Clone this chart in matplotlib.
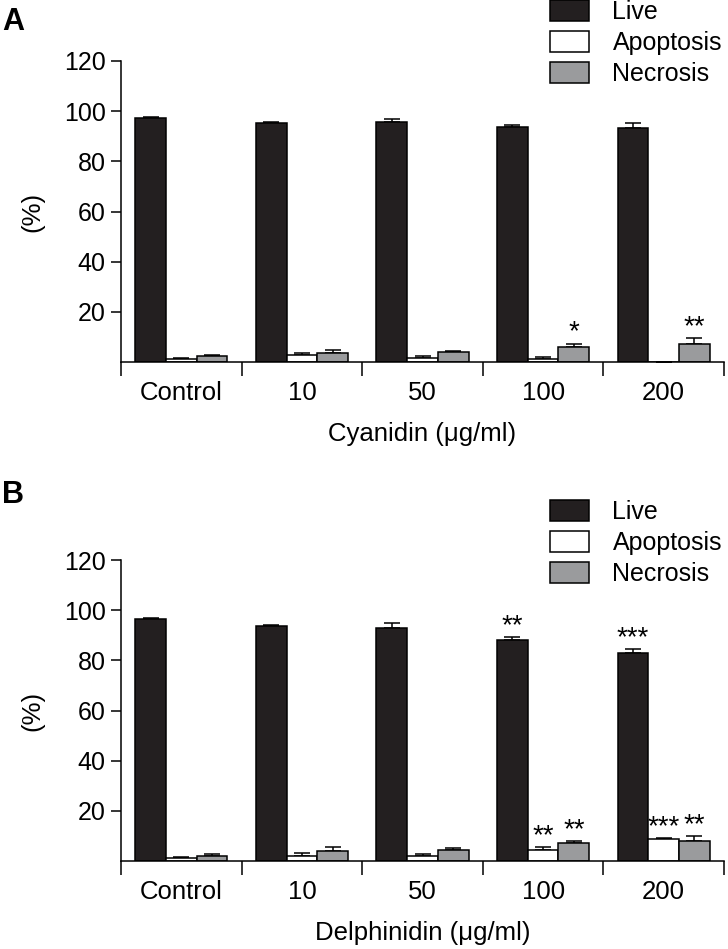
import numpy as np
import matplotlib
matplotlib.use("Agg")
import matplotlib.pyplot as plt

plt.rcParams['font.family'] = ['Liberation Sans', 'DejaVu Sans']

groups = ['Control', '10', '50', '100', '200']
series = ['Live', 'Apoptosis', 'Necrosis']

# panel A - cyanidin
cy_live = [97.3, 95.2, 95.8, 93.5, 93.3]
cy_live_err = [0.3, 0.3, 1.0, 0.8, 2.0]
cy_apop = [1.0, 2.7, 1.6, 1.2, 0.0]
cy_apop_err = [0.4, 0.9, 0.7, 0.7, 0.0]
cy_necr = [2.4, 3.5, 3.9, 6.0, 7.2]
cy_necr_err = [0.4, 1.2, 0.5, 1.3, 2.4]
cy_stars = [['', '', '', '', ''],
            ['', '', '', '', ''],
            ['', '', '', '*', '**']]

# panel B - delphinidin
de_live = [96.6, 93.6, 92.8, 88.0, 83.0]
de_live_err = [0.3, 0.3, 2.0, 1.3, 1.5]
de_apop = [1.0, 1.8, 1.8, 4.5, 8.9]
de_apop_err = [0.4, 1.4, 1.0, 1.1, 0.2]
de_necr = [2.0, 4.1, 4.5, 7.2, 7.8]
de_necr_err = [0.7, 1.6, 0.5, 0.8, 2.2]
de_stars = [['', '', '', '**', '***'],
            ['', '', '', '**', '***'],
            ['', '', '', '**', '**']]

colors = ['#231f20', 'white', '#9a9b9d']


def draw_panel(ax, vals, errs, stars, xlabel):
    x = np.arange(len(groups)) + 0.5
    w = 0.255
    for i, (v, e, c) in enumerate(zip(vals, errs, colors)):
        xi = x + (i - 1) * w
        ax.bar(xi, v, width=w, color=c, edgecolor='black', linewidth=1.1,
               label=series[i], zorder=2)
        ax.errorbar(xi, v, yerr=[np.zeros(len(v)), e], fmt='none',
                    ecolor='black', elinewidth=1.1, capsize=6, capthick=1.1,
                    zorder=1)
        for j, s in enumerate(stars[i]):
            if s:
                ax.text(xi[j], v[j] + e[j] + 1.6, s, ha='center',
                        va='baseline', fontsize=20)
    ax.set_xlim(0, len(groups))
    ax.set_ylim(0, 120)
    ax.set_yticks([20, 40, 60, 80, 100, 120])
    ax.set_xticks(np.arange(len(groups) + 1))
    ax.set_xticklabels([])
    ax.set_xticks(x, minor=True)
    ax.set_xticklabels(groups, minor=True, fontsize=18.5)
    ax.tick_params(axis='x', which='major', length=10, width=1.1, direction='out')
    ax.tick_params(axis='x', which='minor', length=0, pad=14)
    ax.tick_params(axis='y', length=7, width=1.1, labelsize=18, pad=4)
    for sp in ['top', 'right']:
        ax.spines[sp].set_visible(False)
    for sp in ['left', 'bottom']:
        ax.spines[sp].set_linewidth(1.1)
    ax.set_xlabel(xlabel, fontsize=18.5, labelpad=12)
    ax.set_ylabel('(%)', fontsize=18.5, labelpad=14)


fig = plt.figure(figsize=(7.28, 9.49), dpi=100)
axA = fig.add_axes([121 / 728, 1 - 362 / 949, 603 / 728, 301 / 949])
axB = fig.add_axes([121 / 728, 1 - 861 / 949, 603 / 728, 301 / 949])

draw_panel(axA, [cy_live, cy_apop, cy_necr],
           [cy_live_err, cy_apop_err, cy_necr_err], cy_stars,
           'Cyanidin (\u03bcg/ml)')
draw_panel(axB, [de_live, de_apop, de_necr],
           [de_live_err, de_apop_err, de_necr_err], de_stars,
           'Delphinidin (\u03bcg/ml)')

for ax, top in [(axA, 1.0), (axB, 1 - 500 / 949)]:
    ax.legend(loc='upper left', bbox_to_anchor=(550 / 728, top),
              bbox_transform=fig.transFigure, frameon=False, fontsize=18,
              handlelength=1.55, handleheight=0.88, handletextpad=0.95,
              labelspacing=0.28, borderpad=0, borderaxespad=0)

fig.text(2 / 728, 1 - 7 / 949, 'A', fontsize=22, fontweight='bold', va='top')
fig.text(2 / 728, 1 - 480 / 949, 'B', fontsize=22, fontweight='bold', va='top')

fig.savefig('out.png', dpi=100)
